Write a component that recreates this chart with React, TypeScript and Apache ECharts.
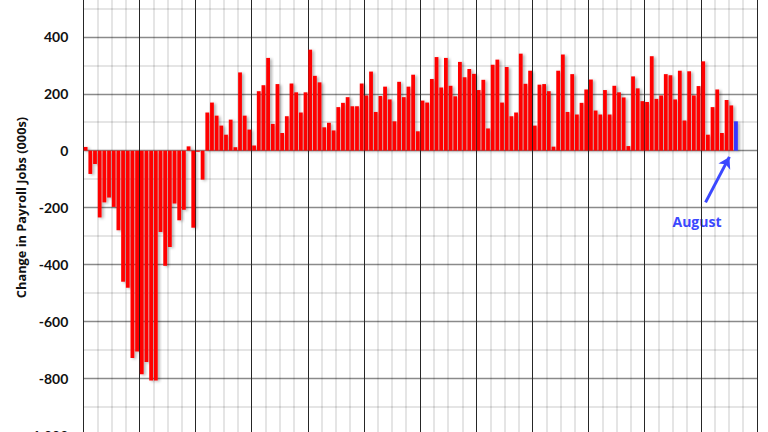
import React, { useEffect, useRef } from 'react'
import * as echarts from 'echarts'

// monthly change in payroll jobs (000s), Jan 2008 .. Aug 2019
const payrollChanges: number[] = [
  // 2008
  13, -82, -47, -235, -182, -165, -198, -280, -461, -482, -729, -706,
  // 2009
  -786, -743, -808, -808, -286, -405, -339, -186, -245, -208, 15, -271,
  // 2010
  -4, -102, 134, 169, 123, 88, 56, 109, 12, 275, 123, 74,
  // 2011
  18, 209, 230, 326, 94, 234, 62, 121, 236, 205, 134, 205,
  // 2012
  355, 263, 240, 82, 98, 71, 153, 168, 188, 156, 156, 236,
  // 2013
  194, 278, 136, 192, 225, 180, 103, 242, 188, 225, 267, 68,
  // 2014
  176, 169, 252, 329, 222, 326, 228, 191, 312, 258, 287, 270,
  // 2015
  213, 249, 78, 302, 320, 169, 294, 121, 134, 341, 235, 281,
  // 2016
  88, 232, 234, 209, 14, 281, 338, 136, 269, 127, 168, 215,
  // 2017
  250, 141, 127, 213, 127, 228, 205, 187, 16, 261, 219, 174,
  // 2018
  171, 332, 182, 194, 269, 265, 180, 281, 106, 279, 194, 227,
  // 2019
  314, 56, 153, 215, 62, 178, 159, 103,
]

const monthsOnAxis = 144 // 2008 through 2019
const yMin = -1000
const yMax = 600
const yStep = 200
const latestLabel = 'August'
// arrow from the label up to the latest bar, in axis units (month index, jobs)
const arrowFrom: [number, number] = [133.0, -182]
const arrowTo: [number, number] = [138.1, -22]

const RED = '#ff0000'
const BLUE = '#3535ff'
const NOTE_BLUE = '#3b48ff'
// translucent so the minor grid never breaks the darker lines it crosses
const MINOR_GRID = 'rgba(0,0,0,0.1)'

const App: React.FC = () => {
  const containerRef = useRef<HTMLDivElement>(null)

  useEffect(() => {
    if (!containerRef.current) return
    const chart = echarts.init(containerRef.current, undefined, { renderer: 'svg' })
    const last = payrollChanges.length - 1

    const option: echarts.EChartsOption = {
      animation: false,
      backgroundColor: '#ffffff',
      grid: { left: 83.3, right: 11, top: 0, bottom: 15, outerBoundsMode: 'none' } as any,
      xAxis: {
        type: 'value',
        min: 0,
        max: monthsOnAxis,
        interval: 12,
        axisLine: { show: false },
        axisTick: { show: false },
        axisLabel: { show: false },
        splitLine: { show: true, lineStyle: { color: '#262626', width: 1 } },
        minorTick: { show: false, splitNumber: 4 },
        minorSplitLine: { show: true, lineStyle: { color: MINOR_GRID, width: 2 } },
      },
      yAxis: {
        type: 'value',
        min: yMin,
        max: yMax,
        interval: yStep,
        name: 'Change in Payroll Jobs (000s)',
        nameLocation: 'middle',
        nameRotate: 90,
        nameGap: 56,
        nameMoveOverlap: false,
        nameTextStyle: { fontFamily: 'Open Sans', fontWeight: 'bold', fontSize: 12.8, color: '#111' },
        axisLine: { show: false },
        axisTick: { show: false },
        axisLabel: {
          fontFamily: 'Lato',
          fontWeight: 'bold',
          fontSize: 14,
          color: '#111',
          margin: 15,
          showMaxLabel: false,
        },
        splitLine: { show: true, lineStyle: { color: '#8a8a8a', width: 1.3 } },
        minorTick: { show: false, splitNumber: 2 },
        minorSplitLine: { show: true, lineStyle: { color: MINOR_GRID, width: 2 } },
      } as any,
      series: [
        {
          type: 'bar',
          barWidth: 3.8,
          data: payrollChanges.map((v, i) => ({
            value: [i + 0.5, v],
            itemStyle: { color: i === last ? BLUE : RED },
          })),
          itemStyle: {
            shadowColor: 'rgba(0,0,0,0.3)',
            shadowBlur: 3,
            shadowOffsetX: 2,
            shadowOffsetY: 1,
          },
          markLine: {
            silent: true,
            symbol: ['none', 'arrow'],
            symbolSize: [10, 11],
            label: { show: false },
            lineStyle: { color: NOTE_BLUE, width: 3, type: 'solid' },
            data: [[{ coord: arrowFrom }, { coord: arrowTo }]],
          },
        },
      ],
      graphic: [
        {
          type: 'text',
          x: 697,
          y: 241,
          style: {
            text: latestLabel,
            align: 'center',
            verticalAlign: 'middle',
            font: 'bold 14px "Open Sans"',
            fill: NOTE_BLUE,
          },
        },
      ],
    }

    chart.setOption(option)
    return () => {
      chart.dispose()
    }
  }, [])

  return (
    <div
      ref={containerRef}
      style={{ position: 'fixed', left: 0, top: -20, width: 768, height: 470 }}
    />
  )
}

export default App
